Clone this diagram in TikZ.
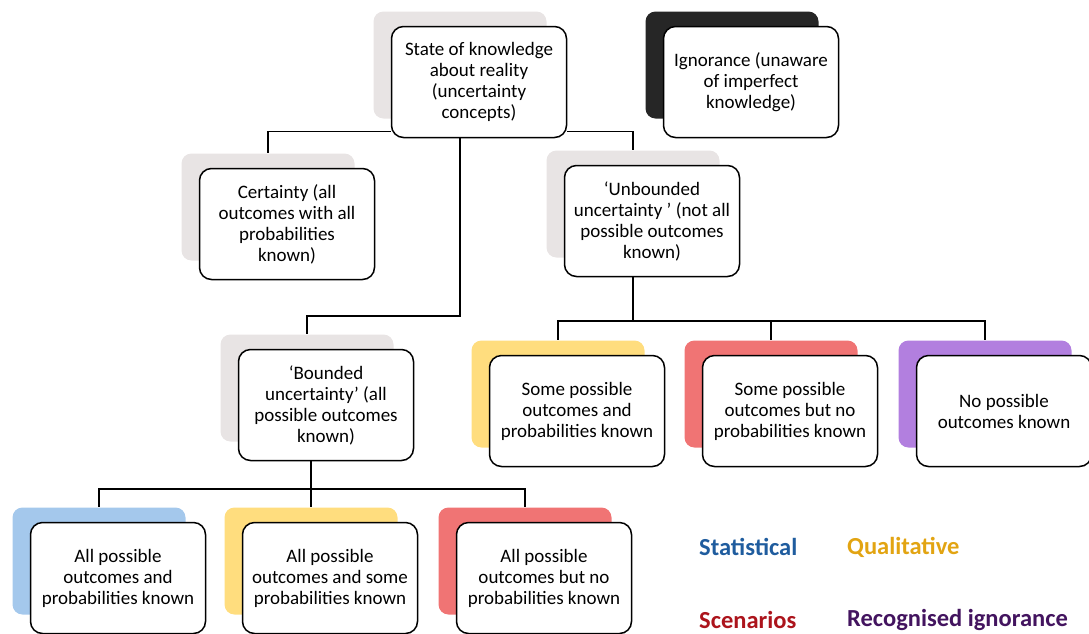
\documentclass[tikz,border=0pt]{standalone}
\usepackage{fontspec}
\setmainfont{Carlito}
\usetikzlibrary{positioning}

\definecolor{backgray}{HTML}{E8E4E4}
\definecolor{backdark}{HTML}{262626}
\definecolor{backblue}{HTML}{A4C8EC}
\definecolor{backyellow}{HTML}{FFDD7E}
\definecolor{backred}{HTML}{F07474}
\definecolor{backpurple}{HTML}{B27FDF}
\definecolor{statblue}{HTML}{1F5C9E}
\definecolor{qualgold}{HTML}{E2A412}
\definecolor{scenred}{HTML}{AC141C}
\definecolor{ignpurple}{HTML}{43145F}

\begin{document}
\begin{tikzpicture}[x=1pt, y=-1pt,
    back/.style={rounded corners=10pt, minimum width=173pt, minimum height=107pt, inner sep=0pt},
    box/.style={draw=black, line width=1.5pt, fill=white, rounded corners=12pt,
        minimum width=175pt, minimum height=111pt, align=center, inner sep=2pt,
        font=\fontsize{19}{21}\selectfont},
    link/.style={draw=black, line width=1.3pt},
    legend/.style={anchor=west, inner sep=0pt, font=\fontsize{24.5}{28}\selectfont\bfseries}]

    \useasboundingbox (0,0) rectangle (1089,633);

    % Top level
    \node[back, fill=backgray] (rootb) at (460,65) {};
    \node[box] (root) at ([shift={(19,17)}]rootb.center) {State of knowledge\\about reality\\(uncertainty\\concepts)};
    \node[back, fill=backdark] (ignb) at (732,65) {};
    \node[box] (ign) at ([shift={(19,17)}]ignb.center) {Ignorance (unaware\\of imperfect\\knowledge)};

    % Second level
    \node[back, fill=backgray] (certb) at (268,207) {};
    \node[box] (cert) at ([shift={(19,17)}]certb.center) {Certainty (all\\outcomes with all\\probabilities\\known)};
    \node[back, fill=backgray] (unbb) at (633,204) {};
    \node[box] (unb) at ([shift={(19,17)}]unbb.center) {`Unbounded\\uncertainty ' (not all\\possible outcomes\\known)};
    \node[back, fill=backgray] (boundb) at (307,388) {};
    \node[box] (bound) at ([shift={(19,17)}]boundb.center) {`Bounded\\uncertainty' (all\\possible outcomes\\known)};

    % Under unbounded uncertainty
    \node[back, fill=backyellow] (yelb) at (558,394) {};
    \node[box] (yel) at ([shift={(19,17)}]yelb.center) {Some possible\\outcomes and\\probabilities known};
    \node[back, fill=backred] (redb) at (771,394) {};
    \node[box] (red) at ([shift={(19,17)}]redb.center) {Some possible\\outcomes but no\\probabilities known};
    \node[back, fill=backpurple] (purb) at (985,394) {};
    \node[box] (pur) at ([shift={(19,17)}]purb.center) {No possible\\outcomes known};

    % Under bounded uncertainty
    \node[back, fill=backblue] (statb) at (99,561) {};
    \node[box] (stat) at ([shift={(19,17)}]statb.center) {All possible\\outcomes and\\probabilities known};
    \node[back, fill=backyellow] (qualb) at (311,561) {};
    \node[box] (qual) at ([shift={(19,17)}]qualb.center) {All possible\\outcomes and some\\probabilities known};
    \node[back, fill=backred] (scenb) at (525,561) {};
    \node[box] (scen) at ([shift={(19,17)}]scenb.center) {All possible\\outcomes but no\\probabilities known};

    % Connectors
    \coordinate (rj) at (460,316);
    \coordinate (uj) at (633,321);
    \coordinate (bj) at (311,489);
    \draw[link] ([yshift=7pt]root.south west) -| (certb.north);
    \draw[link] ([yshift=7pt]root.south east) -| (unbb.north);
    \draw[link] (root.south -| rj) -- (rj) -| (boundb.north);
    \draw[link] (unb.south -| uj) -- (uj);
    \foreach \n in {yelb, redb, purb} \draw[link] (uj) -| (\n.north);
    \draw[link] (bound.south -| bj) -- (bj);
    \foreach \n in {statb, qualb, scenb} \draw[link] (bj) -| (\n.north);

    % Legend
    \node[legend, text=statblue] (lstat) at (699,547) {Statistical};
    \node[legend, text=qualgold] (lqual) at (847,547) {Qualitative};
    \node[legend, text=scenred] (lscen) at (699,620) {Scenarios};
    \node[legend, text=ignpurple] (lign) at (847,620) {Recognised ignorance};

\end{tikzpicture}
\end{document}
